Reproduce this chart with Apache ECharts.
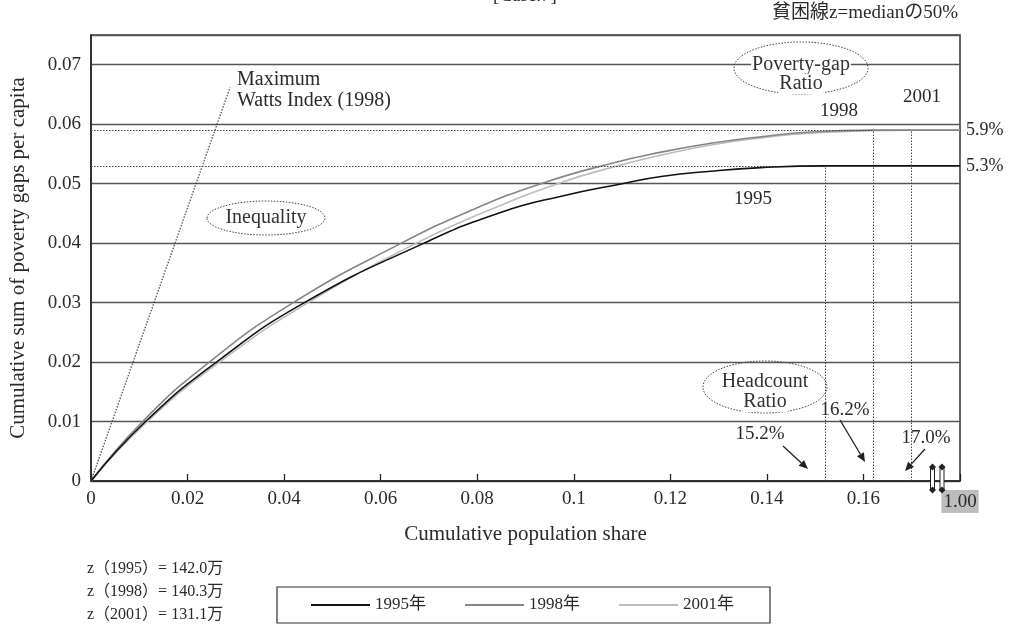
<!DOCTYPE html>
<html>
<head>
<meta charset="utf-8">
<script src="https://cdn.jsdelivr.net/npm/echarts@6/dist/echarts.min.js"></script>
<style>
  html, body { margin: 0; padding: 0; background: #fff; }
  #chart { width: 1017px; height: 627px; }
</style>
</head>
<body>
<div id="chart"></div>
<script>
// TIP curves: cumulative population share vs cumulative poverty gap per capita
const years = ['1995年', '1998年', '2001年'];

const share1995 = [0, 0.0113, 0.026, 0.0442, 0.069, 0.085, 0.0974, 0.110, 0.1181, 0.1284, 0.1388, 0.152, 1.00];
const gap1995   = [0, 0.010, 0.020, 0.030, 0.040, 0.0452, 0.0479, 0.050, 0.0512, 0.0521, 0.0527, 0.053, 0.053];

const share1998 = [0, 0.0107, 0.0245, 0.0419, 0.0643, 0.079, 0.0932, 0.1077, 0.1181, 0.1284, 0.1388, 0.1491, 0.162, 1.00];
const gap1998   = [0, 0.010, 0.020, 0.030, 0.040, 0.0456, 0.050, 0.0534, 0.0553, 0.0568, 0.0579, 0.0587, 0.059, 0.059];

const share2001 = [0, 0.0117, 0.0266, 0.045, 0.0674, 0.082, 0.0974, 0.1077, 0.1181, 0.1284, 0.1388, 0.1491, 0.170, 1.00];
const gap2001   = [0, 0.010, 0.020, 0.030, 0.040, 0.0454, 0.0502, 0.0527, 0.0548, 0.0565, 0.0577, 0.0585, 0.059, 0.059];

// headcount ratio (where each curve flattens) and poverty-gap ratio (height of the plateau)
const headcount = [0.152, 0.162, 0.170];
const povertyGapRatio = [0.053, 0.059, 0.059];

// maximum Watts index line for 1998 (from the origin)
const wattsShare = [0, 0.0288];
const wattsGap = [0, 0.0662];

const povertyLines = ['z（1995）= 142.0万', 'z（1998）= 140.3万', 'z（2001）= 131.1万'];

const xTicks = { min: 0, step: 0.02 };
const yTicks = { min: 0, max: 0.075, step: 0.01 };
const fullShare = 1.00;

// broken x axis: everything beyond BREAK_FROM is squeezed into the last sliver up to AXIS_MAX
const BREAK_FROM = 0.175;
const AXIS_MAX = 0.18;
function toAxisX(s) {
  return s <= BREAK_FROM ? s : BREAK_FROM + (s - BREAK_FROM) / (fullShare - BREAK_FROM) * (AXIS_MAX - BREAK_FROM);
}

const FONT = '"Liberation Serif", "Noto Sans CJK JP", serif';
const TXT = '#2a2a2a';
const colors = ['#111111', '#858585', '#bcbcbc'];

function pairs(xs, ys) { return xs.map((x, i) => [toAxisX(x), ys[i]]); }
const dotted = { color: '#444', type: [1.5, 1.5], width: 1 };

function refLines(i, withHorizontal) {
  const h = toAxisX(headcount[i]), g = povertyGapRatio[i];
  const d = [[{ coord: [h, 0] }, { coord: [h, g] }]];
  if (withHorizontal) d.push([{ coord: [0, g] }, { coord: [h, g] }]);
  return { silent: true, symbol: 'none', label: { show: false }, lineStyle: dotted, data: d };
}

function curve(i, xs, ys, showEnd) {
  return {
    name: years[i], type: 'line', data: pairs(xs, ys),
    smooth: 0.5, symbol: 'none', showSymbol: false, z: 5 - i,
    lineStyle: { color: colors[i], width: 1.6 }, itemStyle: { color: colors[i] },
    endLabel: {
      show: showEnd, distance: 6, color: TXT, fontFamily: FONT, fontSize: 18,
      formatter: () => (povertyGapRatio[i] * 100).toFixed(1) + '%'
    },
    markLine: refLines(i, i < 2)
  };
}

const chart = echarts.init(document.getElementById('chart'), null, { renderer: 'canvas' });

function trim(v) { return String(+v.toFixed(3)); }

// dotted ellipse annotation with centred text lines
function bubble(cx, cy, rx, ry, lines, lineH, textY0) {
  const els = [{
    type: 'ellipse', shape: { cx: cx, cy: cy, rx: rx, ry: ry },
    style: { fill: 'none', stroke: '#444', lineWidth: 1, lineDash: [1.5, 1.5] }, z: 10
  }];
  lines.forEach((t, k) => els.push({
    type: 'text', z: 11,
    style: { text: t, x: cx, y: textY0 + k * lineH, align: 'center', verticalAlign: 'middle',
      fill: '#333', fontFamily: FONT, fontSize: 20, backgroundColor: '#fff', padding: [0, 1] }
  }));
  return els;
}

function label(t, x, y, align, size) {
  return { type: 'text', z: 11, style: { text: t, x: x, y: y, align: align || 'center', verticalAlign: 'middle',
    fill: TXT, fontFamily: FONT, fontSize: size || 19 } };
}

function arrow(x1, y1, x2, y2) {
  const a = Math.atan2(y2 - y1, x2 - x1), L = 9, W = 4;
  const bx = x2 - L * Math.cos(a), by = y2 - L * Math.sin(a);
  return [
    { type: 'line', z: 11, shape: { x1: x1, y1: y1, x2: bx, y2: by }, style: { stroke: '#222', lineWidth: 1.3 } },
    { type: 'polygon', z: 11, shape: { points: [[x2, y2],
      [bx + W * Math.sin(a), by - W * Math.cos(a)], [bx - W * Math.sin(a), by + W * Math.cos(a)]] },
      style: { fill: '#222' } }
  ];
}

// axis-break marker: a double bar capped with diamonds
function breakMark(x, y1, y2) {
  const d = 3.5;
  const diamond = (cy) => ({ type: 'polygon', z: 12,
    shape: { points: [[x, cy - d], [x + d, cy], [x, cy + d], [x - d, cy]] }, style: { fill: '#222' } });
  return [
    { type: 'rect', z: 12, shape: { x: x - 2, y: y1, width: 4, height: y2 - y1 },
      style: { fill: '#fff', stroke: '#222', lineWidth: 1 } },
    diamond(y1), diamond(y2)
  ];
}

const graphics = [].concat(
  [label('[Case.7]', 525, -4, 'center', 19)],
  [label('貧困線z=medianの50%', 958, 13, 'right', 19)],
  [label('Maximum', 237, 80, 'left', 20), label('Watts Index (1998)', 237, 101, 'left', 20)],
  bubble(266, 218, 59, 17, ['Inequality'], 0, 218),
  bubble(801, 68, 67, 26, ['Poverty-gap', 'Ratio'], 19, 65),
  bubble(765, 387, 62, 26, ['Headcount', 'Ratio'], 20, 382),
  [label('1998', 839, 111), label('2001', 922, 97), label('1995', 753, 199)],
  [label('15.2%', 760, 434), label('16.2%', 845, 410), label('17.0%', 926, 438)],
  arrow(783, 446, 808, 469), arrow(840, 420, 865, 462), arrow(925, 449, 905, 471),
  breakMark(932.5, 467, 490), breakMark(942, 467, 490),
  povertyLines.map((t, k) => label(t, 87, 569 + k * 23, 'left', 16))
);

chart.setOption({
  animation: false,
  backgroundColor: '#fff',
  textStyle: { fontFamily: FONT },
  grid: { left: 90, right: 57, top: 35, bottom: 146, show: true, borderColor: '#333', borderWidth: 1.5, containLabel: false },
  legend: {
    data: years.map(n => ({ name: n, icon: 'rect' })), left: 277, top: 587, orient: 'horizontal',
    padding: [9, 36, 9, 34], itemGap: 39, itemWidth: 59, itemHeight: 2,
    borderColor: '#333', borderWidth: 1.2,
    textStyle: { fontFamily: FONT, fontSize: 17, color: TXT, lineHeight: 18 }
  },
  xAxis: {
    type: 'value', min: xTicks.min, max: AXIS_MAX, interval: xTicks.step,
    name: 'Cumulative population share', nameLocation: 'middle', nameGap: 43,
    nameTextStyle: { fontFamily: FONT, fontSize: 21, color: TXT },
    axisLine: { show: true, lineStyle: { color: '#222', width: 1.5 } },
    axisTick: { show: true, inside: true, length: 7, lineStyle: { color: '#222', width: 1.3 } },
    splitLine: { show: false },
    axisLabel: {
      show: true, margin: 9, showMaxLabel: true, color: TXT, fontFamily: FONT, fontSize: 19,
      formatter: v => Math.abs(v - AXIS_MAX) < 1e-9 ? '{end|' + fullShare.toFixed(2) + '}' : trim(v),
      rich: { end: { backgroundColor: '#bdbdbd', padding: [3, 2, 1, 2], fontFamily: FONT, fontSize: 19, color: TXT } }
    }
  },
  yAxis: {
    type: 'value', min: yTicks.min, max: yTicks.max, interval: yTicks.step,
    name: 'Cumulative sum of poverty gaps per capita', nameLocation: 'middle', nameGap: 62,
    nameTextStyle: { fontFamily: FONT, fontSize: 21, color: TXT },
    axisLine: { show: true, lineStyle: { color: '#222', width: 1.5 } },
    axisTick: { show: false },
    splitLine: { show: true, lineStyle: { color: '#555', width: 1.4 } },
    axisLabel: { margin: 10, showMaxLabel: false, color: TXT, fontFamily: FONT, fontSize: 19, formatter: v => trim(v) }
  },
  series: [
    curve(0, share1995, gap1995, true),
    curve(1, share1998, gap1998, true),
    curve(2, share2001, gap2001, false),
    {
      name: 'Watts', type: 'line', data: pairs(wattsShare, wattsGap), symbol: 'none', silent: true,
      lineStyle: { color: '#333', type: [1.5, 1.5], width: 1.1 }, z: 1
    }
  ],
  graphic: graphics
});
</script>
</body>
</html>
